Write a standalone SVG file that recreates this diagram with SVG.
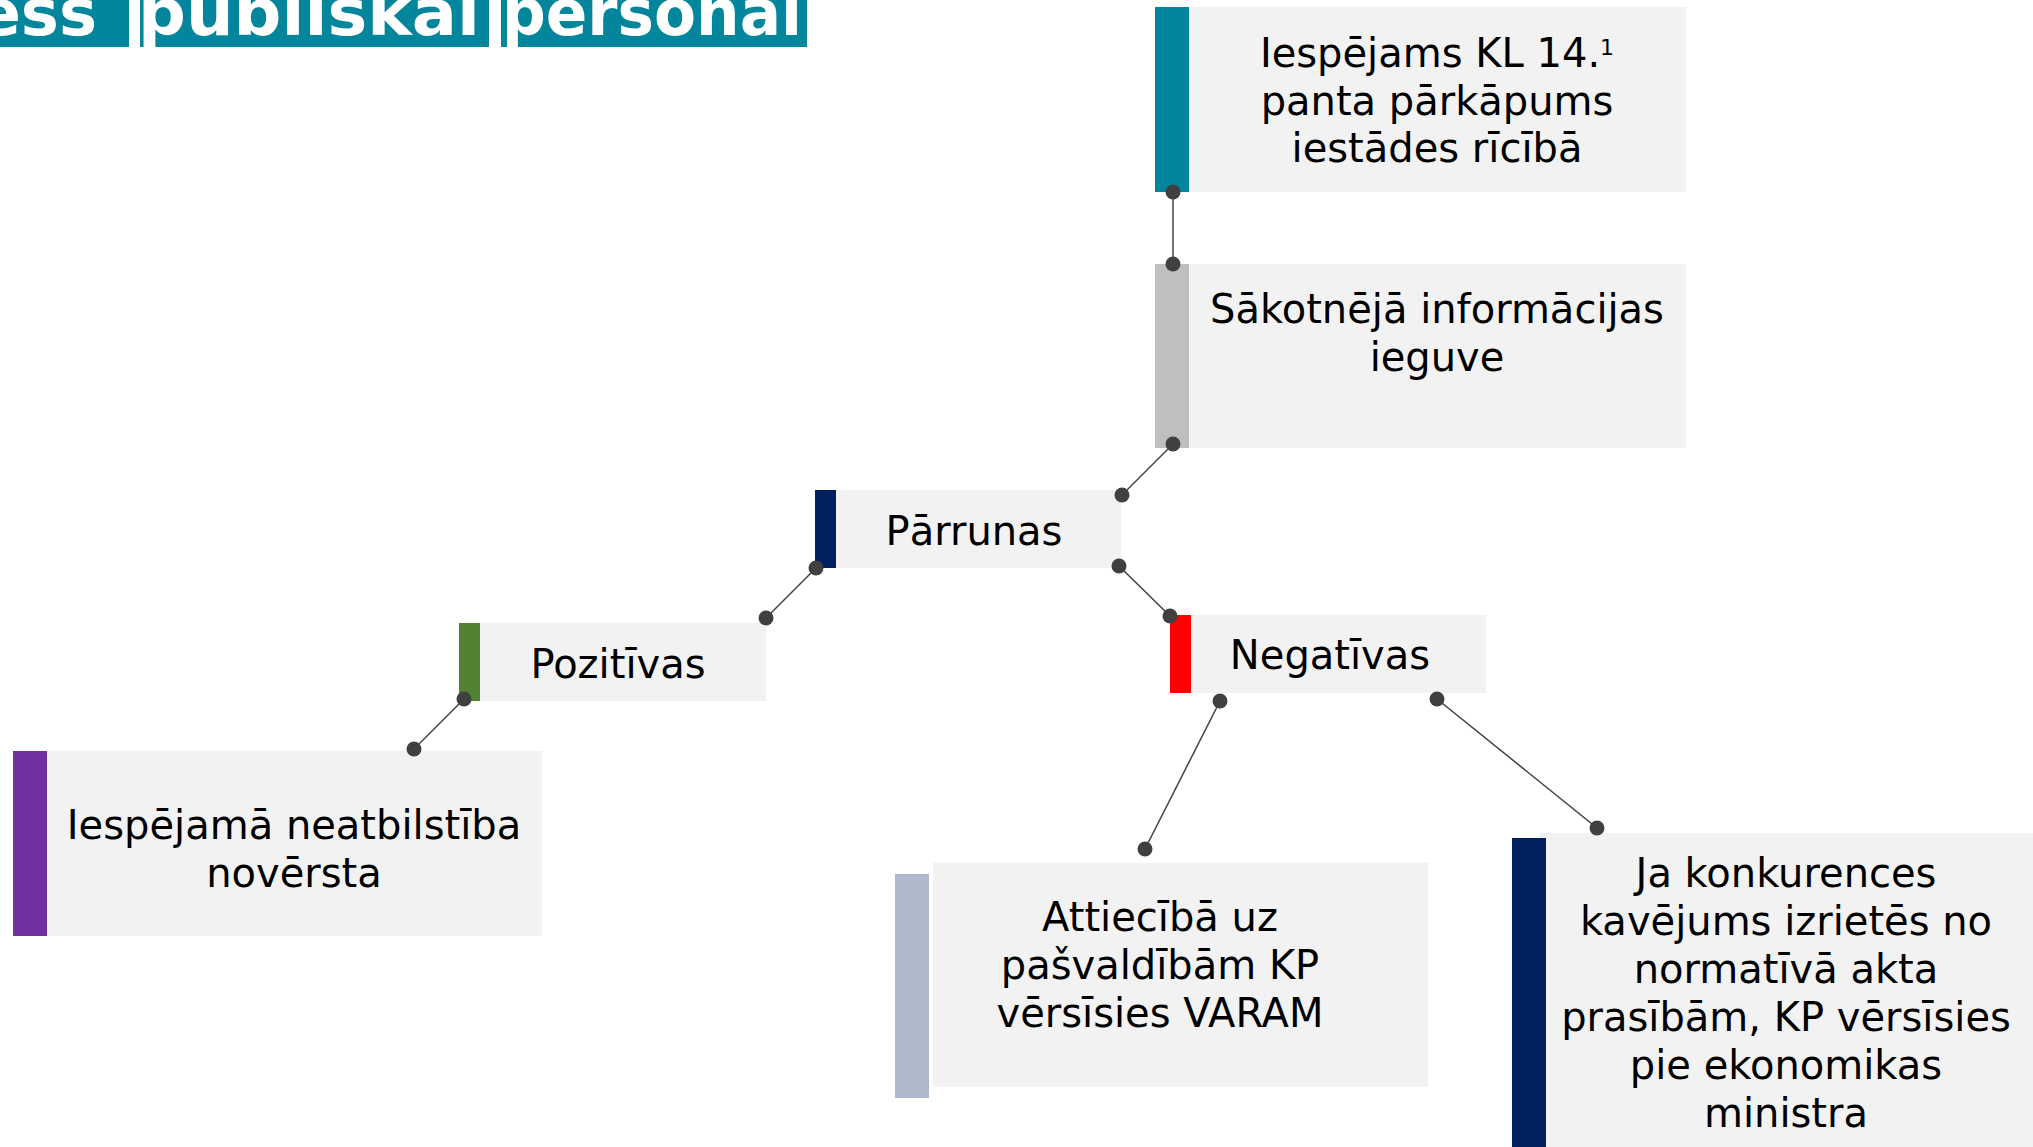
<svg xmlns="http://www.w3.org/2000/svg" width="2033" height="1147" viewBox="0 0 2033 1147">
<style>
.box{fill:#F2F2F2}
.t{font-family:"DejaVu Sans","Verdana",sans-serif;font-size:40px;fill:#000;text-anchor:middle}
.title{font-family:"DejaVu Sans","Verdana",sans-serif;font-weight:bold;font-size:64px;fill:#FFFFFF}
.ban{fill:#03869B}
.ln{stroke:#404040;stroke-width:1.5;fill:none}
.dot{fill:#404040}
</style>
<rect width="2033" height="1147" fill="#FFFFFF"/>
<g id="title">
<rect class="ban" x="0" y="0" width="129" height="47"/>
<rect class="ban" x="140" y="0" width="349" height="47"/>
<rect class="ban" x="501" y="0" width="306" height="47"/>
<text class="title" x="97" y="35" text-anchor="end">ess</text>
<text class="title" x="138" y="35" textLength="342" lengthAdjust="spacingAndGlyphs">publiskai</text>
<text class="title" x="502" y="35" textLength="300" lengthAdjust="spacingAndGlyphs">personai</text>
</g>
<g id="node-iespejams">
<rect class="box" x="1155" y="7" width="531" height="185"/>
<rect x="1155" y="7" width="34" height="185" fill="#03869B"/>
<text class="t" x="1437" y="67">Iespējams KL 14.<tspan font-size="22" dy="-12">1</tspan></text>
<text class="t" x="1437" y="114.5">panta pārkāpums</text>
<text class="t" x="1437" y="162">iestādes rīcībā</text>
</g>
<g id="node-sakotneja">
<rect class="box" x="1155" y="264" width="531" height="184"/>
<rect x="1155" y="264" width="34" height="184" fill="#BFBFBF"/>
<text class="t" x="1437" y="323">Sākotnējā informācijas</text>
<text class="t" x="1437" y="371">ieguve</text>
</g>
<g id="node-parrunas">
<rect class="box" x="815" y="490" width="306" height="78"/>
<rect x="815" y="490" width="21" height="78" fill="#002060"/>
<text class="t" x="974" y="545">Pārrunas</text>
</g>
<g id="node-negativas">
<rect class="box" x="1170" y="615" width="316" height="78"/>
<rect x="1170" y="615" width="21" height="78" fill="#FF0000"/>
<text class="t" x="1330" y="669">Negatīvas</text>
</g>
<g id="node-pozitivas">
<rect class="box" x="459" y="623" width="307" height="78"/>
<rect x="459" y="623" width="21" height="78" fill="#548235"/>
<text class="t" x="618" y="678">Pozitīvas</text>
</g>
<g id="node-noversta">
<rect class="box" x="13" y="751" width="529" height="185"/>
<rect x="13" y="751" width="34" height="185" fill="#7030A0"/>
<text class="t" x="294" y="839">Iespējamā neatbilstība</text>
<text class="t" x="294" y="887">novērsta</text>
</g>
<g id="node-varam">
<rect class="box" x="933" y="863" width="495" height="224"/>
<rect x="895" y="874" width="34" height="224" fill="#ADB9CA"/>
<text class="t" x="1160" y="931">Attiecībā uz</text>
<text class="t" x="1160" y="979">pašvaldībām KP</text>
<text class="t" x="1160" y="1027">vērsīsies VARAM</text>
</g>
<g id="node-ministrs">
<rect class="box" x="1540" y="833" width="500" height="330"/>
<rect x="1512" y="838" width="34" height="320" fill="#002060"/>
<text class="t" x="1786" y="887">Ja konkurences</text>
<text class="t" x="1786" y="935">kavējums izrietēs no</text>
<text class="t" x="1786" y="983">normatīvā akta</text>
<text class="t" x="1786" y="1031">prasībām, KP vērsīsies</text>
<text class="t" x="1786" y="1079">pie ekonomikas</text>
<text class="t" x="1786" y="1127">ministra</text>
</g>
<g id="connectors">
<line class="ln" x1="1173" y1="192" x2="1173" y2="264"/>
<line class="ln" x1="1173" y1="444" x2="1122" y2="495"/>
<line class="ln" x1="816" y1="568" x2="766" y2="618"/>
<line class="ln" x1="1119" y1="566" x2="1170" y2="616"/>
<line class="ln" x1="464" y1="699" x2="414" y2="749"/>
<line class="ln" x1="1220" y1="701" x2="1145" y2="849"/>
<line class="ln" x1="1437" y1="699" x2="1597" y2="828"/>
<circle class="dot" cx="1173" cy="192" r="7.5"/>
<circle class="dot" cx="1173" cy="264" r="7.5"/>
<circle class="dot" cx="1173" cy="444" r="7.5"/>
<circle class="dot" cx="1122" cy="495" r="7.5"/>
<circle class="dot" cx="816" cy="568" r="7.5"/>
<circle class="dot" cx="766" cy="618" r="7.5"/>
<circle class="dot" cx="1119" cy="566" r="7.5"/>
<circle class="dot" cx="1170" cy="616" r="7.5"/>
<circle class="dot" cx="464" cy="699" r="7.5"/>
<circle class="dot" cx="414" cy="749" r="7.5"/>
<circle class="dot" cx="1220" cy="701" r="7.5"/>
<circle class="dot" cx="1145" cy="849" r="7.5"/>
<circle class="dot" cx="1437" cy="699" r="7.5"/>
<circle class="dot" cx="1597" cy="828" r="7.5"/>
</g>
</svg>
